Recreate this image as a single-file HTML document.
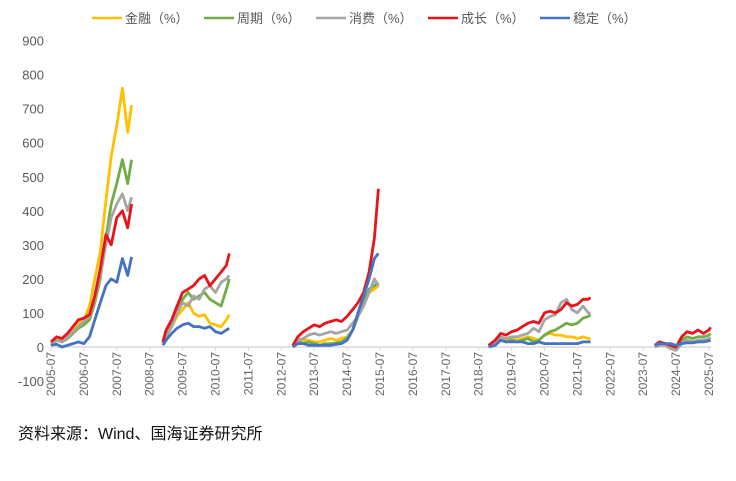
<!DOCTYPE html>
<html><head><meta charset="utf-8">
<style>
body{margin:0;background:#fff;width:736px;height:481px;overflow:hidden;font-family:"Liberation Sans","Noto Sans CJK SC",sans-serif;}
#src{position:absolute;left:18px;top:420px;font-size:16px;color:#111;font-family:"Liberation Sans","Noto Sans CJK SC",sans-serif;}
</style></head><body>
<svg id="chart" width="736" height="481" style="position:absolute;left:0;top:0"></svg>
<div id="src">资料来源：Wind、国海证券研究所</div>
<script>
const seriesNames=["金融（%）","周期（%）","消费（%）","成长（%）","稳定（%）"];
const seriesKeys=["finance","cycle","consumer","growth","stable"];
const colors=["#FFC000","#70AD47","#A5A5A5","#E8141A","#4472C4"];
const yTicks=[-100,0,100,200,300,400,500,600,700,800,900];
const xTickLabels=["2005-07","2006-07","2007-07","2008-07","2009-07","2010-07","2011-07","2012-07","2013-07","2014-07","2015-07","2016-07","2017-07","2018-07","2019-07","2020-07","2021-07","2022-07","2023-07","2024-07","2025-07"];
const ep1Times=[2005.5,2005.67,2005.83,2006.0,2006.17,2006.33,2006.5,2006.67,2006.83,2007.0,2007.17,2007.33,2007.5,2007.67,2007.83,2007.95];
const ep1={finance:[10,25,20,30,50,70,80,120,200,280,430,560,650,760,630,710],
cycle:[5,20,15,25,40,55,65,80,130,200,320,420,480,550,480,550],
consumer:[5,20,15,28,45,60,75,90,140,210,300,380,420,450,400,440],
growth:[15,30,25,40,60,80,85,95,150,230,330,300,380,400,350,420],
stable:[5,8,0,5,10,15,10,30,80,130,180,200,190,260,210,265]};
const ep2Times=[2008.9,2009.0,2009.17,2009.33,2009.5,2009.67,2009.83,2010.0,2010.17,2010.33,2010.5,2010.67,2010.83,2010.92];
const ep2={finance:[10,30,60,90,110,130,100,90,95,70,65,60,80,95],
cycle:[10,35,70,110,140,160,140,150,160,140,130,120,170,200],
consumer:[10,30,60,100,130,120,150,140,170,180,160,190,200,210],
growth:[15,50,80,120,160,170,180,200,210,180,200,220,240,275],
stable:[5,20,40,55,65,70,60,60,55,60,45,40,50,55]};
const ep3Times=[2012.85,2013.0,2013.17,2013.33,2013.5,2013.67,2013.83,2014.0,2014.17,2014.33,2014.5,2014.67,2014.83,2015.0,2015.17,2015.33,2015.45];
const ep3={finance:[0,15,20,20,15,15,20,25,20,25,30,50,90,130,160,170,180],
cycle:[0,15,10,15,10,5,10,10,12,15,25,50,90,130,170,180,190],
consumer:[5,20,25,35,40,35,40,45,40,45,50,70,90,120,160,200,180],
growth:[5,30,45,55,65,60,70,75,80,75,90,110,130,160,220,320,465],
stable:[0,10,10,5,5,5,5,5,8,10,20,50,100,150,200,260,275]};
const ep4Times=[2018.8,2019.0,2019.17,2019.33,2019.5,2019.67,2019.83,2020.0,2020.17,2020.33,2020.5,2020.67,2020.83,2021.0,2021.17,2021.33,2021.5,2021.67,2021.83,2021.9];
const ep4={finance:[0,10,20,20,25,20,25,30,25,20,35,40,35,35,30,30,25,30,25,25],
cycle:[0,10,20,15,20,15,20,25,15,20,35,45,50,60,70,65,70,85,90,95],
consumer:[0,15,30,25,30,30,35,40,55,45,80,90,95,130,140,110,100,120,100,100],
growth:[5,20,40,35,45,50,60,70,75,70,100,105,100,110,130,120,125,140,140,145],
stable:[0,5,20,15,15,15,15,10,10,15,10,10,10,10,10,10,10,15,15,15]};
const ep5Times=[2023.85,2024.0,2024.17,2024.33,2024.5,2024.67,2024.83,2025.0,2025.17,2025.33,2025.5,2025.55];
const ep5={finance:[5,10,10,5,-5,10,15,15,15,15,20,22],
cycle:[5,10,10,5,-5,20,30,25,30,30,35,40],
consumer:[0,5,5,-5,-10,10,20,15,20,20,25,28],
growth:[5,15,10,5,0,30,45,40,50,40,50,58],
stable:[5,10,10,10,5,10,12,12,15,15,18,20]};
const episodes=[[ep1Times,ep1],[ep2Times,ep2],[ep3Times,ep3],[ep4Times,ep4],[ep5Times,ep5]];

const NS="http://www.w3.org/2000/svg";
const svg=document.getElementById('chart');
const x0=51,x1=709,t0=2005.5,t1=2025.5;
const yZero=347,pxPer=0.3405;
function X(t){return x0+(t-t0)/(t1-t0)*(x1-x0);}
function Y(v){return yZero-v*pxPer;}
function mk(tag,attrs){const e=document.createElementNS(NS,tag);for(const k in attrs)e.setAttribute(k,attrs[k]);svg.appendChild(e);return e;}

yTicks.forEach(v=>{
  const t=mk('text',{x:44,y:Y(v)+5,'text-anchor':'end','font-size':13,fill:'#595959'});
  t.textContent=v;
  
  
});
const ax=mk('line',{x1:x0,x2:x1+2,y1:yZero,y2:yZero,stroke:'#d9d9d9','stroke-width':1.5});


xTickLabels.forEach((lab,i)=>{
  const x=X(t0+i);
  const tk=mk('line',{x1:x,x2:x,y1:yZero,y2:yZero+4,stroke:'#d9d9d9'});
  
  
  const t=mk('text',{x:0,y:0,'text-anchor':'end','font-size':12,fill:'#666',transform:`translate(${x+4},${yZero+5}) rotate(-90)`});
  t.textContent=lab;
  
  
});
seriesKeys.forEach((k,si)=>{
  episodes.forEach(([times,d])=>{
    const pts=times.map((t,i)=>X(t).toFixed(1)+','+Y(d[k][i]).toFixed(1)).join(' ');
    const p=mk('polyline',{points:pts,fill:'none',stroke:colors[si],'stroke-width':2.8,'stroke-linejoin':'round'});
    
    
  });
});
let lx=92;
seriesNames.forEach((n,i)=>{
  const l=mk('line',{x1:lx,x2:lx+30,y1:18,y2:18,stroke:colors[i],'stroke-width':2.5});
  
  
  const t=mk('text',{x:lx+33,y:23,'font-size':13,fill:'#595959'});
  t.textContent=n;
  
  
  lx+=112;
});
</script>
</body></html>
